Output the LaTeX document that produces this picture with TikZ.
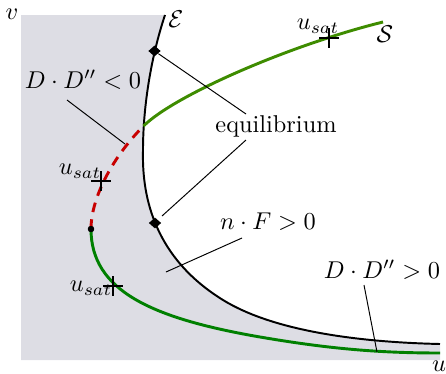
\documentclass[tikz,border=0pt]{standalone}
\usetikzlibrary{shapes.geometric}
\definecolor{regiongray}{RGB}{221,221,228}
\definecolor{upgreen}{RGB}{62,140,0}
\definecolor{lowgreen}{RGB}{0,128,0}
\definecolor{dashred}{RGB}{200,0,0}
\begin{document}
\begin{tikzpicture}[x=0.411pt,y=-0.411pt,
  leader/.style={line width=0.4pt},
  eqcurve/.style={line width=0.8pt,black},
  branchup/.style={line width=1.2pt,upgreen},
  branchlow/.style={line width=1.2pt,lowgreen},
  unstable/.style={line width=1.2pt,dashred,dash pattern=on 4pt off 3pt},
  eqmark/.style={diamond,fill=black,inner sep=0pt,minimum width=5.2pt,minimum height=4.6pt},
  dotmark/.style={circle,fill=black,inner sep=0pt,minimum size=2.6pt},
  satmark/.style={line width=0.5pt}]
\useasboundingbox (0,0) rectangle (446,373);
% gray region
\fill[regiongray] (21,15) -- (165,15) .. controls (150,60) and (143,110) .. (143,150)
  .. controls (142,190) and (150,255) .. (223,300)
  .. controls (270,329) and (350,342) .. (440,344) -- (440,360) -- (21,360) -- cycle;
% equilibrium curve
\draw[eqcurve] (165,15) .. controls (150,60) and (143,110) .. (143,150)
  .. controls (142,190) and (150,255) .. (223,300)
  .. controls (270,329) and (350,342) .. (440,344);
% branches
\coordinate (meet) at (143.5,126);
\node[dotmark] (dot) at (91,229) {};
\draw[branchup] (meet) .. controls (175,95) and (290,45) .. (383,22);
\draw[branchlow] (dot.center) .. controls (91,290) and (150,318) .. (260,337)
  .. controls (330,349) and (380,353) .. (440,353);
\draw[unstable] (dot.center) .. controls (91,200) and (110,160) .. (meet);
\node[dotmark] at (dot) {};
% markers
\node[eqmark] (d1) at (154.5,51) {};
\node[eqmark] (d2) at (155,223) {};
\coordinate (c1) at (329,38);
\coordinate (c2) at (101,181);
\coordinate (c3) at (113,286);
\foreach \c in {c1,c2,c3}{
  \draw[satmark] (\c) +(-10,0) -- +(10,0);
  \draw[satmark] (\c) +(0,-10) -- +(0,10);
}
% labels
\node (v) at (12,14) {$v$};
\node (u) at (439,366) {$u$};
\node (E) at (176,19) {$\mathcal{E}$};
\node (S) at (385,34) {$\mathcal{S}$};
\node (s1) at (318,26) {$u_{sat}$};
\node (s2) at (80,171) {$u_{sat}$};
\node (s3) at (91,288) {$u_{sat}$};
\node (eq) at (276,126) {equilibrium};
\node (neg) at (83,80) {$D\cdot D''<0$};
\node (nf) at (268,222) {$n\cdot F>0$};
\node (pos) at (382,270) {$D\cdot D''>0$};
% leaders
\coordinate (eqa) at (246,114);
\coordinate (eqb) at (246,140);
\coordinate (eqc) at (162,216);
\draw[leader] (d1) -- (eqa);
\draw[leader] (eqb) -- (eqc);
\coordinate (nega) at (67,100);
\coordinate (negb) at (125,144);
\draw[leader] (nega) -- (negb);
\coordinate (nfa) at (242,238);
\coordinate (nfb) at (166,272);
\draw[leader] (nfa) -- (nfb);
\coordinate (posa) at (364,285);
\coordinate (posb) at (377,352);
\draw[leader] (posa) -- (posb);
\end{tikzpicture}
\end{document}
